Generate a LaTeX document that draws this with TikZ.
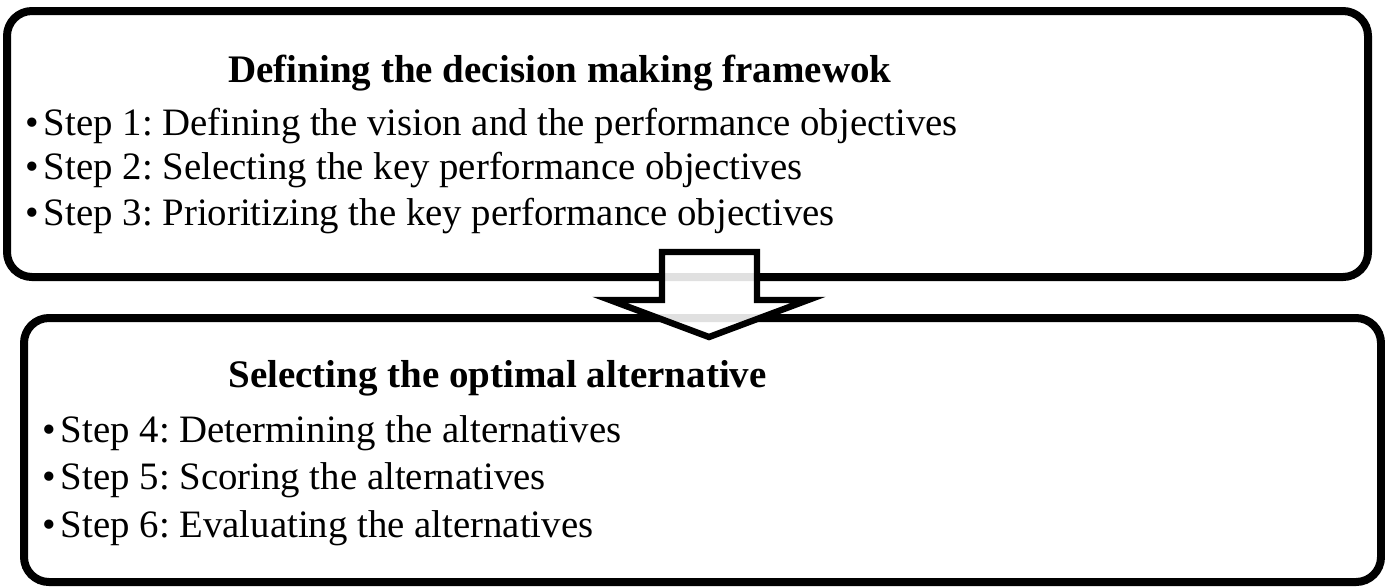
\documentclass[tikz,border=0pt]{standalone}
\usepackage{fontspec}
\setmainfont{Liberation Serif}
\frenchspacing
\newcommand{\bul}{\textbullet\hspace{2.5pt}}
\begin{document}
\begin{tikzpicture}[x=0.5pt,y=-0.5pt,
    stagebox/.style={draw,line width=4pt,rounded corners=12.5pt},
    stagetitle/.style={anchor=base west,inner sep=0pt,font=\fontsize{19.5}{23}\selectfont\bfseries},
    steptext/.style={anchor=base west,inner sep=0pt,font=\fontsize{19.4}{23}\selectfont},
    flowarrow/.style={draw,line width=3.2pt,fill=white,fill opacity=0.88}]

\useasboundingbox (0,0) rectangle (1385,586);

% first stage
\draw[stagebox] (7,11) rectangle (1368,277);
\node[stagetitle] (frame) at (228,82) {Defining the decision making framewok};
\node[steptext] (s1) at (25,135) {\bul Step 1: Defining the vision and the performance objectives};
\node[steptext] (s2) at (25,179) {\bul Step 2: Selecting the key performance objectives};
\node[steptext] (s3) at (25,225) {\bul Step 3: Prioritizing the key performance objectives};

% second stage
\draw[stagebox] (24,318) rectangle (1381,582);
\node[stagetitle] (optim) at (228,387) {Selecting the optimal alternative};
\node[steptext] (s4) at (42,442) {\bul Step 4: Determining the alternatives};
\node[steptext] (s5) at (42,489) {\bul Step 5: Scoring the alternatives};
\node[steptext] (s6) at (42,537) {\bul Step 6: Evaluating the alternatives};

% block arrow between the stages
\draw[flowarrow] (662,252) -- (757,252) -- (757,300) -- (808,300)
    -- (709,337) -- (610,300) -- (662,300) -- cycle;
\end{tikzpicture}
\end{document}
